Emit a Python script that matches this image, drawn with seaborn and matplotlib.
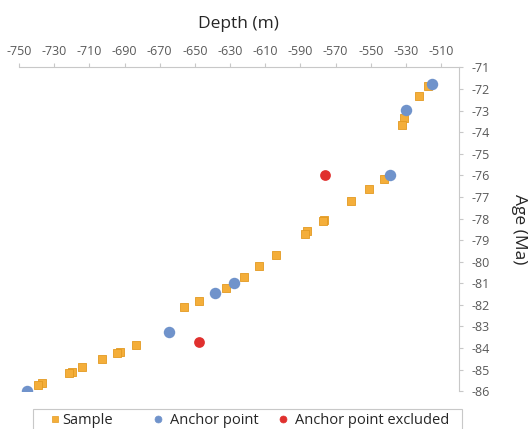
import matplotlib
matplotlib.use('Agg')
import matplotlib.pyplot as plt
from matplotlib.lines import Line2D
from matplotlib.patches import Rectangle
import seaborn as sns

# Sample depths (m) and ages (Ma)
sample_depth = [-517.2, -522.3, -530.9, -532.0, -542.4, -550.7, -561.2, -576.3, -577.2,
                -586.0, -587.5, -604.0, -613.3, -622.0, -632.3, -647.5, -656.0, -683.4,
                -692.5, -694.4, -703.0, -714.3, -720.0, -721.4, -736.7, -739.0]
sample_age = [-71.87, -72.33, -73.36, -73.65, -76.17, -76.63, -77.19, -78.06, -78.13,
              -78.58, -78.72, -79.69, -80.19, -80.70, -81.24, -81.81, -82.10, -83.87,
              -84.18, -84.24, -84.52, -84.89, -85.09, -85.14, -85.63, -85.71]

# Anchor points
anchor_depth = [-515.2, -530.0, -539.0, -627.5, -638.5, -664.5, -745.3]
anchor_age = [-71.77, -72.98, -75.99, -81.00, -81.44, -83.27, -85.97]

# Anchor points excluded
excluded_depth = [-575.9, -647.6]
excluded_age = [-75.99, -83.72]

x_ticks = list(range(-750, -509, 20))
y_ticks = list(range(-86, -70))

sns.set_style('white')
plt.rcParams['font.family'] = ['Open Sans', 'DejaVu Sans']
plt.rcParams['axes.unicode_minus'] = False

fig = plt.figure(figsize=(5.31, 4.29), dpi=100)
ax = fig.add_axes([0.0358, 0.0879, 0.8279, 0.7552])

orange, orange_edge = '#F4AE3A', '#E39A22'
blue, red = '#7093CB', '#E0302E'

sns.scatterplot(x=sample_depth, y=sample_age, ax=ax, marker='s', s=34,
                color=orange, edgecolor=orange_edge, linewidth=0.6, zorder=3)
sns.scatterplot(x=anchor_depth, y=anchor_age, ax=ax, marker='o', s=68,
                color=blue, edgecolor=blue, linewidth=0, zorder=4)
sns.scatterplot(x=excluded_depth, y=excluded_age, ax=ax, marker='o', s=60,
                color=red, edgecolor=red, linewidth=0, zorder=4)

ax.set_xlim(-750, -500)
ax.set_ylim(-86, -71)
ax.set_xticks(x_ticks)
ax.set_yticks(y_ticks)

ax.xaxis.tick_top()
ax.xaxis.set_label_position('top')
ax.yaxis.tick_right()
ax.yaxis.set_label_position('right')

for side in ['left', 'bottom']:
    ax.spines[side].set_visible(False)
for side in ['top', 'right']:
    ax.spines[side].set_color('#c8c8c8')
    ax.spines[side].set_linewidth(0.8)

ax.tick_params(axis='both', direction='out', length=3, width=0.8, color='#c8c8c8',
               labelcolor='#595959', labelsize=9)
ax.tick_params(axis='x', pad=4)
ax.tick_params(axis='y', pad=6)

ax.set_xlabel('Depth (m)', fontsize=12.5, color='#262626', labelpad=12)
ax.set_ylabel('Age (Ma)', fontsize=12.5, color='#262626', rotation=270, labelpad=27)

# legend: box drawn separately, one entry per column
fig.patches.append(Rectangle((33 / 531, -0.01), (462 - 33) / 531, 1 - 409 / 429 + 0.01,
                             transform=fig.transFigure, fill=False,
                             edgecolor='#c8c8c8', linewidth=0.8))
entries = [('Sample', 's', orange, orange_edge, 49, 0.1),
           ('Anchor point', 'o', blue, blue, 152, 0.45),
           ('Anchor point excluded', 'o', red, red, 277, 0.45)]
for label, marker, fc, ec, xpix, pad in entries:
    handle = Line2D([], [], linestyle='none', marker=marker, markersize=5,
                    markerfacecolor=fc, markeredgecolor=ec, markeredgewidth=0.5)
    leg = fig.legend([handle], [label], loc='center left',
                     bbox_to_anchor=(xpix / 531, 1 - 421 / 429), frameon=False,
                     fontsize=10.5, handletextpad=pad, handlelength=0.8,
                     borderpad=0, borderaxespad=0)
    for t in leg.get_texts():
        t.set_color('#262626')

fig.savefig('out.png', dpi=100)
